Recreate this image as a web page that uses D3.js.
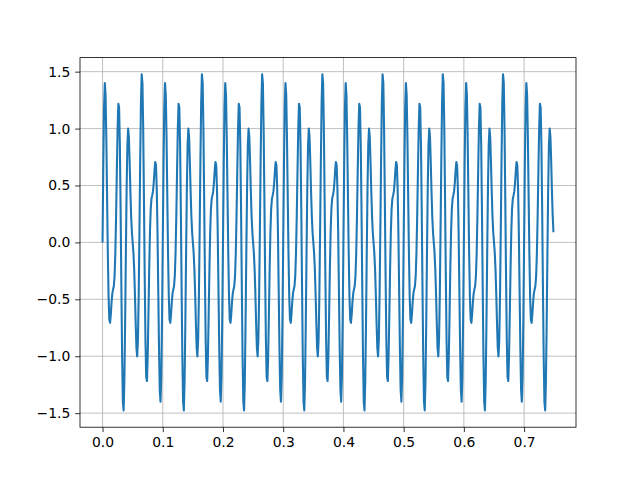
<!DOCTYPE html>
<html><head><meta charset="utf-8">
<script src="https://cdn.jsdelivr.net/npm/d3@7"></script>
<style>body{margin:0;background:#fff}svg{display:block}</style>
</head><body>
<script>
// Sample spacing and count (x from 0 to ~0.749)
const sampleStep = 1 / 800;
const sampleCount = 600;
const xTicks = [0, 0.1, 0.2, 0.3, 0.4, 0.5, 0.6, 0.7];
const yTicks = [-1.5, -1.0, -0.5, 0.0, 0.5, 1.0, 1.5];
const yValues = [
0,0.677,1.183,1.399,1.294,0.924,0.413,-0.093,-0.476,-0.677,-0.707,-0.630,-0.524,-0.448,-0.413,-0.383,-0.294,-0.093,0.232,0.630,1,1.218,1.183,0.858,0.294,-0.383,-1.001,-1.399,-1.476,-1.218,-0.707,-0.089,0.476,0.858,1.001,0.924,0.706,0.448,0.232,0.089,0,-0.089,-0.232,-0.448,-0.706,-0.924,-1.001,-0.858,-0.476,0.089,0.707,1.218,1.476,1.399,1.001,0.383,-0.294,-0.858,-1.183,-1.218,-1,-0.630,-0.232,0.093,0.294,0.383,0.413,0.448,0.524,0.630,0.707,0.677,0.476,0.093,-0.413,-0.924,-1.294,-1.399,-1.183,-0.677,
0,0.677,1.183,1.399,1.294,0.924,0.413,-0.093,-0.476,-0.677,-0.707,-0.630,-0.524,-0.448,-0.413,-0.383,-0.294,-0.093,0.232,0.630,1,1.218,1.183,0.858,0.294,-0.383,-1.001,-1.399,-1.476,-1.218,-0.707,-0.089,0.476,0.858,1.001,0.924,0.706,0.448,0.232,0.089,0,-0.089,-0.232,-0.448,-0.706,-0.924,-1.001,-0.858,-0.476,0.089,0.707,1.218,1.476,1.399,1.001,0.383,-0.294,-0.858,-1.183,-1.218,-1,-0.630,-0.232,0.093,0.294,0.383,0.413,0.448,0.524,0.630,0.707,0.677,0.476,0.093,-0.413,-0.924,-1.294,-1.399,-1.183,-0.677,
0,0.677,1.183,1.399,1.294,0.924,0.413,-0.093,-0.476,-0.677,-0.707,-0.630,-0.524,-0.448,-0.413,-0.383,-0.294,-0.093,0.232,0.630,1,1.218,1.183,0.858,0.294,-0.383,-1.001,-1.399,-1.476,-1.218,-0.707,-0.089,0.476,0.858,1.001,0.924,0.706,0.448,0.232,0.089,0,-0.089,-0.232,-0.448,-0.706,-0.924,-1.001,-0.858,-0.476,0.089,0.707,1.218,1.476,1.399,1.001,0.383,-0.294,-0.858,-1.183,-1.218,-1,-0.630,-0.232,0.093,0.294,0.383,0.413,0.448,0.524,0.630,0.707,0.677,0.476,0.093,-0.413,-0.924,-1.294,-1.399,-1.183,-0.677,
0,0.677,1.183,1.399,1.294,0.924,0.413,-0.093,-0.476,-0.677,-0.707,-0.630,-0.524,-0.448,-0.413,-0.383,-0.294,-0.093,0.232,0.630,1,1.218,1.183,0.858,0.294,-0.383,-1.001,-1.399,-1.476,-1.218,-0.707,-0.089,0.476,0.858,1.001,0.924,0.706,0.448,0.232,0.089,0,-0.089,-0.232,-0.448,-0.706,-0.924,-1.001,-0.858,-0.476,0.089,0.707,1.218,1.476,1.399,1.001,0.383,-0.294,-0.858,-1.183,-1.218,-1,-0.630,-0.232,0.093,0.294,0.383,0.413,0.448,0.524,0.630,0.707,0.677,0.476,0.093,-0.413,-0.924,-1.294,-1.399,-1.183,-0.677,
0,0.677,1.183,1.399,1.294,0.924,0.413,-0.093,-0.476,-0.677,-0.707,-0.630,-0.524,-0.448,-0.413,-0.383,-0.294,-0.093,0.232,0.630,1,1.218,1.183,0.858,0.294,-0.383,-1.001,-1.399,-1.476,-1.218,-0.707,-0.089,0.476,0.858,1.001,0.924,0.706,0.448,0.232,0.089,0,-0.089,-0.232,-0.448,-0.706,-0.924,-1.001,-0.858,-0.476,0.089,0.707,1.218,1.476,1.399,1.001,0.383,-0.294,-0.858,-1.183,-1.218,-1,-0.630,-0.232,0.093,0.294,0.383,0.413,0.448,0.524,0.630,0.707,0.677,0.476,0.093,-0.413,-0.924,-1.294,-1.399,-1.183,-0.677,
0,0.677,1.183,1.399,1.294,0.924,0.413,-0.093,-0.476,-0.677,-0.707,-0.630,-0.524,-0.448,-0.413,-0.383,-0.294,-0.093,0.232,0.630,1,1.218,1.183,0.858,0.294,-0.383,-1.001,-1.399,-1.476,-1.218,-0.707,-0.089,0.476,0.858,1.001,0.924,0.706,0.448,0.232,0.089,0,-0.089,-0.232,-0.448,-0.706,-0.924,-1.001,-0.858,-0.476,0.089,0.707,1.218,1.476,1.399,1.001,0.383,-0.294,-0.858,-1.183,-1.218,-1,-0.630,-0.232,0.093,0.294,0.383,0.413,0.448,0.524,0.630,0.707,0.677,0.476,0.093,-0.413,-0.924,-1.294,-1.399,-1.183,-0.677,
0,0.677,1.183,1.399,1.294,0.924,0.413,-0.093,-0.476,-0.677,-0.707,-0.630,-0.524,-0.448,-0.413,-0.383,-0.294,-0.093,0.232,0.630,1,1.218,1.183,0.858,0.294,-0.383,-1.001,-1.399,-1.476,-1.218,-0.707,-0.089,0.476,0.858,1.001,0.924,0.706,0.448,0.232,0.089,0,-0.089,-0.232,-0.448,-0.706,-0.924,-1.001,-0.858,-0.476,0.089,0.707,1.218,1.476,1.399,1.001,0.383,-0.294,-0.858,-1.183,-1.218,-1,-0.630,-0.232,0.093,0.294,0.383,0.413,0.448,0.524,0.630,0.707,0.677,0.476,0.093,-0.413,-0.924,-1.294,-1.399,-1.183,-0.677,
0,0.677,1.183,1.399,1.294,0.924,0.413,-0.093,-0.476,-0.677,-0.707,-0.630,-0.524,-0.448,-0.413,-0.383,-0.294,-0.093,0.232,0.630,1,1.218,1.183,0.858,0.294,-0.383,-1.001,-1.399,-1.476,-1.218,-0.707,-0.089,0.476,0.858,1.001,0.924,0.706,0.448,0.232,0.089
];

const W = 640, H = 480;
const padL = 80, padR = 576, padT = 57.6, padB = 427.2;
const xMax = (sampleCount - 1) * sampleStep;
const xPad = xMax * 0.05;
const yMinV = d3.min(yValues), yMaxV = d3.max(yValues);
const yPad = (yMaxV - yMinV) * 0.05;

const x = d3.scaleLinear().domain([-xPad, xMax + xPad]).range([padL, padR]);
const y = d3.scaleLinear().domain([yMinV - yPad, yMaxV + yPad]).range([padB, padT]);

const svg = d3.select("body").append("svg").attr("width", W).attr("height", H)
  .style("font-family", "'DejaVu Sans', sans-serif");
svg.append("rect").attr("width", W).attr("height", H).attr("fill", "#fff");

const fmt = v => d3.format(".1f")(v).replace("-", "\u2212");

// grid
svg.append("g").selectAll("line").data(xTicks).join("line")
  .attr("x1", d => x(d)).attr("x2", d => x(d)).attr("y1", padT).attr("y2", padB)
  .attr("stroke", "#b0b0b0").attr("stroke-width", 0.8);
svg.append("g").selectAll("line").data(yTicks).join("line")
  .attr("y1", d => y(d)).attr("y2", d => y(d)).attr("x1", padL).attr("x2", padR)
  .attr("stroke", "#b0b0b0").attr("stroke-width", 0.8);

// line
const pts = yValues.map((v, i) => [i * sampleStep, v]);
svg.append("path").datum(pts)
  .attr("fill", "none").attr("stroke", "#1f77b4").attr("stroke-width", 2.08)
  .attr("stroke-linejoin", "round").attr("stroke-linecap", "butt")
  .attr("d", d3.line().x(d => x(d[0])).y(d => y(d[1])));

// axes
const xAxis = d3.axisBottom(x).tickValues(xTicks).tickFormat(fmt).tickSize(4.86).tickPadding(4.86);
const yAxis = d3.axisLeft(y).tickValues(yTicks).tickFormat(fmt).tickSize(4.86).tickPadding(4.86);
const gx = svg.append("g").attr("transform", `translate(0,${padB})`).call(xAxis);
const gy = svg.append("g").attr("transform", `translate(${padL},0)`).call(yAxis);
[gx, gy].forEach(g => {
  g.select(".domain").remove();
  g.selectAll(".tick line").attr("stroke", "#000").attr("stroke-width", 0.8);
  g.selectAll(".tick text").attr("fill", "#000").style("font-size", "13.9px")
    .style("font-family", "'DejaVu Sans', sans-serif");
});

// spines
svg.append("rect").attr("x", padL).attr("y", padT).attr("width", padR - padL).attr("height", padB - padT)
  .attr("fill", "none").attr("stroke", "#000").attr("stroke-width", 0.8);
</script>
</body></html>
